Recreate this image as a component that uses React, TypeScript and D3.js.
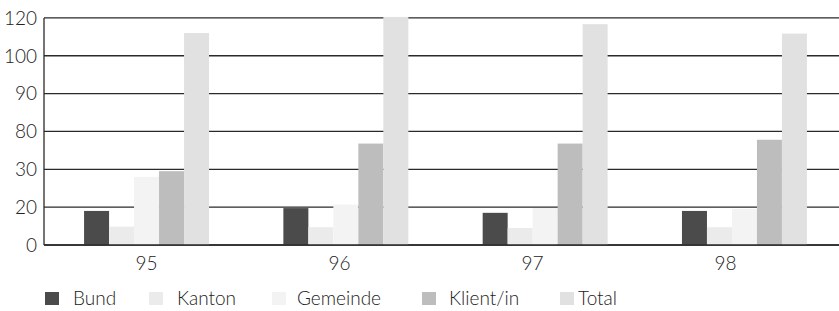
import React from 'react';
import * as d3 from 'd3';

const years = ['95', '96', '97', '98'];
const seriesNames = ['Bund', 'Kanton', 'Gemeinde', 'Klient/in', 'Total'];
const bund = [18, 19.5, 17, 18];
const kanton = [9.7, 9.4, 9, 9.4];
const gemeinde = [28, 20.7, 19.5, 19];
const klient = [29.5, 64, 64, 69];
const total = [112, 120.5, 116.7, 111.7];
const yTicks = [0, 20, 30, 80, 90, 100, 120];

const colors = ['#4b4b4b', '#ebebeb', '#f3f3f3', '#bdbdbd', '#e1e1e1'];
const W = 839;
const H = 311;
const font = 'Lato, "Open Sans", sans-serif';

const App = () => {
  const values = [bund, kanton, gemeinde, klient, total];

  // the printed axis is evenly spaced but the labels are not, so piecewise scale
  const y = d3
    .scaleLinear()
    .domain(yTicks)
    .range(yTicks.map((_, i) => 245 - i * 37.85));

  const x0 = d3.scaleBand().domain(years).range([47, 844]).paddingInner(0.373).paddingOuter(0.186);
  const x1 = d3.scaleBand().domain(seriesNames).range([0, x0.bandwidth()]);
  const xLabel = d3.scaleBand().domain(years).range([50, 822]);

  const legendX = [45, 149, 272, 422, 560];
  const legendTextDx = [28, 28, 25, 27, 18];

  return (
    <svg width={W} height={H} style={{ position: 'absolute', left: 0, top: 0 }} fontFamily={font} fontWeight={300}>
      <rect width={W} height={H} fill="#fff" />
      {yTicks.map((t) => (
        <g key={t}>
          <line x1={44} x2={W} y1={y(t)} y2={y(t)} stroke="#2a2a2a" strokeWidth={1.3} />
          <text x={37} y={y(t)} dy="0.36em" textAnchor="end" fontSize={19} fill="#222">
            {t}
          </text>
        </g>
      ))}
      {years.map((yr, i) => (
        <g key={yr} transform={`translate(${x0(yr)},0)`}>
          {seriesNames.map((s, j) => (
            <rect
              key={s}
              x={x1(s)}
              width={x1.bandwidth()}
              y={y(values[j][i])}
              height={y(0) - y(values[j][i])}
              fill={colors[j]}
            />
          ))}
        </g>
      ))}
      <line x1={44} x2={44} y1={y(120)} y2={y(0)} stroke="#2a2a2a" strokeWidth={1.3} />
      <line x1={44} x2={W} y1={y(0)} y2={y(0)} stroke="#2a2a2a" strokeWidth={1.5} />
      {years.map((yr) => (
        <text
          key={yr}
          x={(xLabel(yr) as number) + xLabel.bandwidth() / 2}
          y={270}
          textAnchor="middle"
          fontSize={19}
          fill="#222"
        >
          {yr}
        </text>
      ))}
      {seriesNames.map((s, j) => (
        <g key={s}>
          <rect x={legendX[j]} y={292} width={14} height={13} fill={colors[j]} />
          <text x={legendX[j] + legendTextDx[j]} y={305} fontSize={19} fill="#222">
            {s}
          </text>
        </g>
      ))}
    </svg>
  );
};

export default App;
